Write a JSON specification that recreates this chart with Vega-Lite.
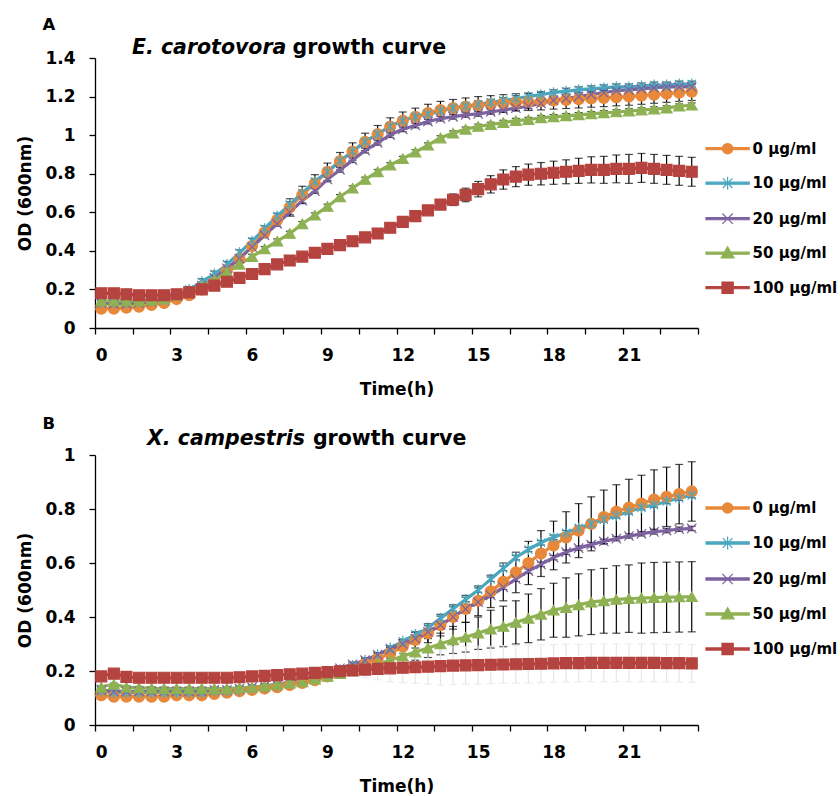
{
"$schema": "https://vega.github.io/schema/vega-lite/v6.json",
"background": "white",
"padding": {"left": 16, "top": 16, "right": 0, "bottom": 0},
"spacing": 18,
"config": {
  "font": "DejaVu Sans",
  "view": {"stroke": null},
  "axis": {"labelFont": "DejaVu Sans", "labelFontSize": 17, "labelFontWeight": "bold", "labelColor": "#000", "titleFont": "DejaVu Sans", "titleFontSize": 17, "titleFontWeight": "bold", "titleColor": "#000", "domainColor": "#000", "domainWidth": 1.3, "tickColor": "#000", "tickWidth": 1.3, "tickSize": 6, "grid": false, "labelFlush": false, "labelOverlap": false},
  "axisX": {"labelPadding": 13, "titlePadding": 18, "labelOffset": 6.28},
  "axisY": {"labelPadding": 14, "titlePadding": 10},
  "title": {"font": "DejaVu Sans", "fontWeight": "bold", "color": "#000", "fontSize": 20.5},
  "legend": {"labelFont": "DejaVu Sans", "labelFontSize": 15, "labelFontWeight": "bold", "labelColor": "#000", "padding": 0}
},
"resolve": {"scale": {"fill": "independent", "stroke": "independent", "shape": "independent"}},
"datasets": {
"A": [
{"s":"0","t":0,"y":0.1,"e":0.01},{"s":"0","t":0.5,"y":0.1,"e":0.01},{"s":"0","t":1,"y":0.105,"e":0.01},{"s":"0","t":1.5,"y":0.11,"e":0.01},{"s":"0","t":2,"y":0.12,"e":0.01},{"s":"0","t":2.5,"y":0.13,"e":0.01},{"s":"0","t":3,"y":0.15,"e":0.01},{"s":"0","t":3.5,"y":0.17,"e":0.01},{"s":"0","t":4,"y":0.2,"e":0.02},{"s":"0","t":4.5,"y":0.24,"e":0.02},{"s":"0","t":5,"y":0.3,"e":0.02},{"s":"0","t":5.5,"y":0.36,"e":0.02},{"s":"0","t":6,"y":0.425,"e":0.02},{"s":"0","t":6.5,"y":0.495,"e":0.02},{"s":"0","t":7,"y":0.56,"e":0.02},{"s":"0","t":7.5,"y":0.625,"e":0.045},{"s":"0","t":8,"y":0.69,"e":0.045},{"s":"0","t":8.5,"y":0.75,"e":0.045},{"s":"0","t":9,"y":0.81,"e":0.045},{"s":"0","t":9.5,"y":0.865,"e":0.045},{"s":"0","t":10,"y":0.915,"e":0.045},{"s":"0","t":10.5,"y":0.965,"e":0.045},{"s":"0","t":11,"y":1.005,"e":0.045},{"s":"0","t":11.5,"y":1.045,"e":0.045},{"s":"0","t":12,"y":1.075,"e":0.045},{"s":"0","t":12.5,"y":1.095,"e":0.045},{"s":"0","t":13,"y":1.115,"e":0.045},{"s":"0","t":13.5,"y":1.13,"e":0.045},{"s":"0","t":14,"y":1.14,"e":0.045},{"s":"0","t":14.5,"y":1.148,"e":0.045},{"s":"0","t":15,"y":1.155,"e":0.045},{"s":"0","t":15.5,"y":1.16,"e":0.045},{"s":"0","t":16,"y":1.165,"e":0.045},{"s":"0","t":16.5,"y":1.17,"e":0.045},{"s":"0","t":17,"y":1.173,"e":0.045},{"s":"0","t":17.5,"y":1.176,"e":0.045},{"s":"0","t":18,"y":1.18,"e":0.045},{"s":"0","t":18.5,"y":1.183,"e":0.045},{"s":"0","t":19,"y":1.186,"e":0.045},{"s":"0","t":19.5,"y":1.19,"e":0.045},{"s":"0","t":20,"y":1.193,"e":0.045},{"s":"0","t":20.5,"y":1.197,"e":0.045},{"s":"0","t":21,"y":1.2,"e":0.045},{"s":"0","t":21.5,"y":1.205,"e":0.045},{"s":"0","t":22,"y":1.21,"e":0.045},{"s":"0","t":22.5,"y":1.215,"e":0.045},{"s":"0","t":23,"y":1.22,"e":0.045},{"s":"0","t":23.5,"y":1.225,"e":0.045},
{"s":"10","t":0,"y":0.13,"e":0.015},{"s":"10","t":0.5,"y":0.13,"e":0.015},{"s":"10","t":1,"y":0.13,"e":0.015},{"s":"10","t":1.5,"y":0.135,"e":0.015},{"s":"10","t":2,"y":0.14,"e":0.015},{"s":"10","t":2.5,"y":0.15,"e":0.015},{"s":"10","t":3,"y":0.17,"e":0.015},{"s":"10","t":3.5,"y":0.2,"e":0.015},{"s":"10","t":4,"y":0.24,"e":0.015},{"s":"10","t":4.5,"y":0.28,"e":0.015},{"s":"10","t":5,"y":0.33,"e":0.015},{"s":"10","t":5.5,"y":0.39,"e":0.015},{"s":"10","t":6,"y":0.45,"e":0.015},{"s":"10","t":6.5,"y":0.515,"e":0.015},{"s":"10","t":7,"y":0.58,"e":0.015},{"s":"10","t":7.5,"y":0.64,"e":0.015},{"s":"10","t":8,"y":0.7,"e":0.015},{"s":"10","t":8.5,"y":0.76,"e":0.015},{"s":"10","t":9,"y":0.81,"e":0.015},{"s":"10","t":9.5,"y":0.865,"e":0.015},{"s":"10","t":10,"y":0.915,"e":0.015},{"s":"10","t":10.5,"y":0.965,"e":0.015},{"s":"10","t":11,"y":1.005,"e":0.015},{"s":"10","t":11.5,"y":1.045,"e":0.015},{"s":"10","t":12,"y":1.075,"e":0.015},{"s":"10","t":12.5,"y":1.095,"e":0.015},{"s":"10","t":13,"y":1.11,"e":0.015},{"s":"10","t":13.5,"y":1.125,"e":0.015},{"s":"10","t":14,"y":1.14,"e":0.015},{"s":"10","t":14.5,"y":1.15,"e":0.015},{"s":"10","t":15,"y":1.16,"e":0.015},{"s":"10","t":15.5,"y":1.17,"e":0.015},{"s":"10","t":16,"y":1.18,"e":0.015},{"s":"10","t":16.5,"y":1.19,"e":0.015},{"s":"10","t":17,"y":1.2,"e":0.015},{"s":"10","t":17.5,"y":1.21,"e":0.015},{"s":"10","t":18,"y":1.22,"e":0.015},{"s":"10","t":18.5,"y":1.228,"e":0.015},{"s":"10","t":19,"y":1.235,"e":0.015},{"s":"10","t":19.5,"y":1.24,"e":0.015},{"s":"10","t":20,"y":1.245,"e":0.015},{"s":"10","t":20.5,"y":1.25,"e":0.015},{"s":"10","t":21,"y":1.25,"e":0.015},{"s":"10","t":21.5,"y":1.255,"e":0.015},{"s":"10","t":22,"y":1.26,"e":0.015},{"s":"10","t":22.5,"y":1.26,"e":0.015},{"s":"10","t":23,"y":1.265,"e":0.015},{"s":"10","t":23.5,"y":1.265,"e":0.015},
{"s":"20","t":0,"y":0.13,"e":0.012},{"s":"20","t":0.5,"y":0.125,"e":0.012},{"s":"20","t":1,"y":0.125,"e":0.012},{"s":"20","t":1.5,"y":0.13,"e":0.012},{"s":"20","t":2,"y":0.135,"e":0.012},{"s":"20","t":2.5,"y":0.145,"e":0.012},{"s":"20","t":3,"y":0.165,"e":0.012},{"s":"20","t":3.5,"y":0.19,"e":0.012},{"s":"20","t":4,"y":0.22,"e":0.012},{"s":"20","t":4.5,"y":0.26,"e":0.012},{"s":"20","t":5,"y":0.31,"e":0.012},{"s":"20","t":5.5,"y":0.36,"e":0.012},{"s":"20","t":6,"y":0.42,"e":0.012},{"s":"20","t":6.5,"y":0.48,"e":0.012},{"s":"20","t":7,"y":0.54,"e":0.012},{"s":"20","t":7.5,"y":0.6,"e":0.012},{"s":"20","t":8,"y":0.66,"e":0.012},{"s":"20","t":8.5,"y":0.71,"e":0.012},{"s":"20","t":9,"y":0.77,"e":0.012},{"s":"20","t":9.5,"y":0.82,"e":0.012},{"s":"20","t":10,"y":0.87,"e":0.012},{"s":"20","t":10.5,"y":0.92,"e":0.012},{"s":"20","t":11,"y":0.96,"e":0.012},{"s":"20","t":11.5,"y":1.0,"e":0.012},{"s":"20","t":12,"y":1.03,"e":0.012},{"s":"20","t":12.5,"y":1.05,"e":0.012},{"s":"20","t":13,"y":1.07,"e":0.012},{"s":"20","t":13.5,"y":1.085,"e":0.012},{"s":"20","t":14,"y":1.095,"e":0.012},{"s":"20","t":14.5,"y":1.105,"e":0.012},{"s":"20","t":15,"y":1.11,"e":0.012},{"s":"20","t":15.5,"y":1.12,"e":0.012},{"s":"20","t":16,"y":1.13,"e":0.012},{"s":"20","t":16.5,"y":1.14,"e":0.012},{"s":"20","t":17,"y":1.15,"e":0.012},{"s":"20","t":17.5,"y":1.165,"e":0.012},{"s":"20","t":18,"y":1.18,"e":0.012},{"s":"20","t":18.5,"y":1.19,"e":0.012},{"s":"20","t":19,"y":1.2,"e":0.012},{"s":"20","t":19.5,"y":1.21,"e":0.012},{"s":"20","t":20,"y":1.22,"e":0.012},{"s":"20","t":20.5,"y":1.23,"e":0.012},{"s":"20","t":21,"y":1.235,"e":0.012},{"s":"20","t":21.5,"y":1.24,"e":0.012},{"s":"20","t":22,"y":1.245,"e":0.012},{"s":"20","t":22.5,"y":1.25,"e":0.012},{"s":"20","t":23,"y":1.25,"e":0.012},{"s":"20","t":23.5,"y":1.25,"e":0.012},
{"s":"50","t":0,"y":0.14,"e":0.012},{"s":"50","t":0.5,"y":0.14,"e":0.012},{"s":"50","t":1,"y":0.14,"e":0.012},{"s":"50","t":1.5,"y":0.14,"e":0.012},{"s":"50","t":2,"y":0.145,"e":0.012},{"s":"50","t":2.5,"y":0.15,"e":0.012},{"s":"50","t":3,"y":0.17,"e":0.012},{"s":"50","t":3.5,"y":0.19,"e":0.012},{"s":"50","t":4,"y":0.22,"e":0.012},{"s":"50","t":4.5,"y":0.25,"e":0.012},{"s":"50","t":5,"y":0.29,"e":0.012},{"s":"50","t":5.5,"y":0.33,"e":0.012},{"s":"50","t":6,"y":0.37,"e":0.012},{"s":"50","t":6.5,"y":0.41,"e":0.012},{"s":"50","t":7,"y":0.45,"e":0.012},{"s":"50","t":7.5,"y":0.49,"e":0.012},{"s":"50","t":8,"y":0.54,"e":0.012},{"s":"50","t":8.5,"y":0.585,"e":0.012},{"s":"50","t":9,"y":0.63,"e":0.012},{"s":"50","t":9.5,"y":0.68,"e":0.012},{"s":"50","t":10,"y":0.725,"e":0.012},{"s":"50","t":10.5,"y":0.77,"e":0.012},{"s":"50","t":11,"y":0.81,"e":0.012},{"s":"50","t":11.5,"y":0.845,"e":0.012},{"s":"50","t":12,"y":0.878,"e":0.012},{"s":"50","t":12.5,"y":0.912,"e":0.012},{"s":"50","t":13,"y":0.948,"e":0.012},{"s":"50","t":13.5,"y":0.985,"e":0.012},{"s":"50","t":14,"y":1.01,"e":0.012},{"s":"50","t":14.5,"y":1.03,"e":0.012},{"s":"50","t":15,"y":1.045,"e":0.012},{"s":"50","t":15.5,"y":1.055,"e":0.012},{"s":"50","t":16,"y":1.065,"e":0.012},{"s":"50","t":16.5,"y":1.075,"e":0.012},{"s":"50","t":17,"y":1.08,"e":0.012},{"s":"50","t":17.5,"y":1.09,"e":0.012},{"s":"50","t":18,"y":1.095,"e":0.012},{"s":"50","t":18.5,"y":1.1,"e":0.012},{"s":"50","t":19,"y":1.105,"e":0.012},{"s":"50","t":19.5,"y":1.11,"e":0.012},{"s":"50","t":20,"y":1.115,"e":0.012},{"s":"50","t":20.5,"y":1.12,"e":0.012},{"s":"50","t":21,"y":1.125,"e":0.012},{"s":"50","t":21.5,"y":1.13,"e":0.012},{"s":"50","t":22,"y":1.135,"e":0.012},{"s":"50","t":22.5,"y":1.14,"e":0.012},{"s":"50","t":23,"y":1.15,"e":0.012},{"s":"50","t":23.5,"y":1.155,"e":0.012},
{"s":"100","t":0,"y":0.18,"e":0.01},{"s":"100","t":0.5,"y":0.18,"e":0.01},{"s":"100","t":1,"y":0.175,"e":0.01},{"s":"100","t":1.5,"y":0.17,"e":0.01},{"s":"100","t":2,"y":0.17,"e":0.01},{"s":"100","t":2.5,"y":0.17,"e":0.01},{"s":"100","t":3,"y":0.175,"e":0.01},{"s":"100","t":3.5,"y":0.185,"e":0.01},{"s":"100","t":4,"y":0.2,"e":0.01},{"s":"100","t":4.5,"y":0.22,"e":0.01},{"s":"100","t":5,"y":0.24,"e":0.01},{"s":"100","t":5.5,"y":0.26,"e":0.01},{"s":"100","t":6,"y":0.28,"e":0.01},{"s":"100","t":6.5,"y":0.305,"e":0.01},{"s":"100","t":7,"y":0.33,"e":0.01},{"s":"100","t":7.5,"y":0.35,"e":0.01},{"s":"100","t":8,"y":0.37,"e":0.01},{"s":"100","t":8.5,"y":0.39,"e":0.01},{"s":"100","t":9,"y":0.41,"e":0.01},{"s":"100","t":9.5,"y":0.43,"e":0.01},{"s":"100","t":10,"y":0.45,"e":0.01},{"s":"100","t":10.5,"y":0.47,"e":0.01},{"s":"100","t":11,"y":0.49,"e":0.012},{"s":"100","t":11.5,"y":0.52,"e":0.012},{"s":"100","t":12,"y":0.55,"e":0.015},{"s":"100","t":12.5,"y":0.58,"e":0.018},{"s":"100","t":13,"y":0.61,"e":0.02},{"s":"100","t":13.5,"y":0.64,"e":0.025},{"s":"100","t":14,"y":0.665,"e":0.03},{"s":"100","t":14.5,"y":0.69,"e":0.035},{"s":"100","t":15,"y":0.72,"e":0.04},{"s":"100","t":15.5,"y":0.745,"e":0.045},{"s":"100","t":16,"y":0.77,"e":0.05},{"s":"100","t":16.5,"y":0.785,"e":0.052},{"s":"100","t":17,"y":0.795,"e":0.055},{"s":"100","t":17.5,"y":0.8,"e":0.058},{"s":"100","t":18,"y":0.805,"e":0.06},{"s":"100","t":18.5,"y":0.81,"e":0.062},{"s":"100","t":19,"y":0.815,"e":0.065},{"s":"100","t":19.5,"y":0.82,"e":0.068},{"s":"100","t":20,"y":0.82,"e":0.07},{"s":"100","t":20.5,"y":0.825,"e":0.072},{"s":"100","t":21,"y":0.825,"e":0.075},{"s":"100","t":21.5,"y":0.83,"e":0.075},{"s":"100","t":22,"y":0.825,"e":0.075},{"s":"100","t":22.5,"y":0.82,"e":0.075},{"s":"100","t":23,"y":0.815,"e":0.075},{"s":"100","t":23.5,"y":0.81,"e":0.075}
],
"B": [
{"s":"0","t":0,"y":0.11,"e":0.005},{"s":"0","t":0.5,"y":0.105,"e":0.005},{"s":"0","t":1,"y":0.105,"e":0.005},{"s":"0","t":1.5,"y":0.105,"e":0.005},{"s":"0","t":2,"y":0.105,"e":0.005},{"s":"0","t":2.5,"y":0.105,"e":0.005},{"s":"0","t":3,"y":0.11,"e":0.005},{"s":"0","t":3.5,"y":0.11,"e":0.005},{"s":"0","t":4,"y":0.11,"e":0.005},{"s":"0","t":4.5,"y":0.115,"e":0.005},{"s":"0","t":5,"y":0.12,"e":0.005},{"s":"0","t":5.5,"y":0.125,"e":0.005},{"s":"0","t":6,"y":0.13,"e":0.005},{"s":"0","t":6.5,"y":0.135,"e":0.005},{"s":"0","t":7,"y":0.14,"e":0.005},{"s":"0","t":7.5,"y":0.148,"e":0.005},{"s":"0","t":8,"y":0.156,"e":0.005},{"s":"0","t":8.5,"y":0.166,"e":0.005},{"s":"0","t":9,"y":0.18,"e":0.005},{"s":"0","t":9.5,"y":0.195,"e":0.01},{"s":"0","t":10,"y":0.21,"e":0.012},{"s":"0","t":10.5,"y":0.227,"e":0.015},{"s":"0","t":11,"y":0.245,"e":0.018},{"s":"0","t":11.5,"y":0.266,"e":0.02},{"s":"0","t":12,"y":0.29,"e":0.025},{"s":"0","t":12.5,"y":0.315,"e":0.03},{"s":"0","t":13,"y":0.34,"e":0.035},{"s":"0","t":13.5,"y":0.37,"e":0.04},{"s":"0","t":14,"y":0.4,"e":0.045},{"s":"0","t":14.5,"y":0.43,"e":0.05},{"s":"0","t":15,"y":0.46,"e":0.055},{"s":"0","t":15.5,"y":0.495,"e":0.06},{"s":"0","t":16,"y":0.53,"e":0.07},{"s":"0","t":16.5,"y":0.565,"e":0.075},{"s":"0","t":17,"y":0.6,"e":0.08},{"s":"0","t":17.5,"y":0.635,"e":0.085},{"s":"0","t":18,"y":0.665,"e":0.09},{"s":"0","t":18.5,"y":0.695,"e":0.095},{"s":"0","t":19,"y":0.72,"e":0.1},{"s":"0","t":19.5,"y":0.745,"e":0.1},{"s":"0","t":20,"y":0.77,"e":0.1},{"s":"0","t":20.5,"y":0.79,"e":0.1},{"s":"0","t":21,"y":0.805,"e":0.105},{"s":"0","t":21.5,"y":0.82,"e":0.105},{"s":"0","t":22,"y":0.835,"e":0.11},{"s":"0","t":22.5,"y":0.845,"e":0.11},{"s":"0","t":23,"y":0.855,"e":0.11},{"s":"0","t":23.5,"y":0.865,"e":0.11},
{"s":"10","t":0,"y":0.125,"e":0.008},{"s":"10","t":0.5,"y":0.12,"e":0.008},{"s":"10","t":1,"y":0.12,"e":0.008},{"s":"10","t":1.5,"y":0.12,"e":0.008},{"s":"10","t":2,"y":0.12,"e":0.008},{"s":"10","t":2.5,"y":0.12,"e":0.008},{"s":"10","t":3,"y":0.12,"e":0.008},{"s":"10","t":3.5,"y":0.12,"e":0.008},{"s":"10","t":4,"y":0.12,"e":0.008},{"s":"10","t":4.5,"y":0.125,"e":0.008},{"s":"10","t":5,"y":0.125,"e":0.008},{"s":"10","t":5.5,"y":0.13,"e":0.008},{"s":"10","t":6,"y":0.135,"e":0.008},{"s":"10","t":6.5,"y":0.14,"e":0.008},{"s":"10","t":7,"y":0.145,"e":0.008},{"s":"10","t":7.5,"y":0.155,"e":0.008},{"s":"10","t":8,"y":0.165,"e":0.008},{"s":"10","t":8.5,"y":0.175,"e":0.008},{"s":"10","t":9,"y":0.19,"e":0.008},{"s":"10","t":9.5,"y":0.205,"e":0.008},{"s":"10","t":10,"y":0.22,"e":0.008},{"s":"10","t":10.5,"y":0.24,"e":0.008},{"s":"10","t":11,"y":0.26,"e":0.008},{"s":"10","t":11.5,"y":0.285,"e":0.008},{"s":"10","t":12,"y":0.31,"e":0.008},{"s":"10","t":12.5,"y":0.335,"e":0.008},{"s":"10","t":13,"y":0.36,"e":0.008},{"s":"10","t":13.5,"y":0.395,"e":0.008},{"s":"10","t":14,"y":0.43,"e":0.008},{"s":"10","t":14.5,"y":0.465,"e":0.008},{"s":"10","t":15,"y":0.5,"e":0.008},{"s":"10","t":15.5,"y":0.54,"e":0.008},{"s":"10","t":16,"y":0.58,"e":0.008},{"s":"10","t":16.5,"y":0.62,"e":0.008},{"s":"10","t":17,"y":0.65,"e":0.008},{"s":"10","t":17.5,"y":0.675,"e":0.008},{"s":"10","t":18,"y":0.695,"e":0.008},{"s":"10","t":18.5,"y":0.712,"e":0.008},{"s":"10","t":19,"y":0.73,"e":0.008},{"s":"10","t":19.5,"y":0.745,"e":0.008},{"s":"10","t":20,"y":0.76,"e":0.008},{"s":"10","t":20.5,"y":0.775,"e":0.008},{"s":"10","t":21,"y":0.79,"e":0.008},{"s":"10","t":21.5,"y":0.805,"e":0.008},{"s":"10","t":22,"y":0.815,"e":0.008},{"s":"10","t":22.5,"y":0.828,"e":0.008},{"s":"10","t":23,"y":0.84,"e":0.008},{"s":"10","t":23.5,"y":0.85,"e":0.008},
{"s":"20","t":0,"y":0.13,"e":0.008},{"s":"20","t":0.5,"y":0.125,"e":0.008},{"s":"20","t":1,"y":0.125,"e":0.008},{"s":"20","t":1.5,"y":0.125,"e":0.008},{"s":"20","t":2,"y":0.125,"e":0.008},{"s":"20","t":2.5,"y":0.125,"e":0.008},{"s":"20","t":3,"y":0.125,"e":0.008},{"s":"20","t":3.5,"y":0.125,"e":0.008},{"s":"20","t":4,"y":0.125,"e":0.008},{"s":"20","t":4.5,"y":0.13,"e":0.008},{"s":"20","t":5,"y":0.13,"e":0.008},{"s":"20","t":5.5,"y":0.135,"e":0.008},{"s":"20","t":6,"y":0.14,"e":0.008},{"s":"20","t":6.5,"y":0.145,"e":0.008},{"s":"20","t":7,"y":0.15,"e":0.008},{"s":"20","t":7.5,"y":0.16,"e":0.008},{"s":"20","t":8,"y":0.17,"e":0.008},{"s":"20","t":8.5,"y":0.18,"e":0.008},{"s":"20","t":9,"y":0.195,"e":0.008},{"s":"20","t":9.5,"y":0.21,"e":0.008},{"s":"20","t":10,"y":0.225,"e":0.008},{"s":"20","t":10.5,"y":0.24,"e":0.008},{"s":"20","t":11,"y":0.26,"e":0.008},{"s":"20","t":11.5,"y":0.28,"e":0.008},{"s":"20","t":12,"y":0.3,"e":0.008},{"s":"20","t":12.5,"y":0.32,"e":0.008},{"s":"20","t":13,"y":0.345,"e":0.008},{"s":"20","t":13.5,"y":0.37,"e":0.008},{"s":"20","t":14,"y":0.4,"e":0.008},{"s":"20","t":14.5,"y":0.43,"e":0.008},{"s":"20","t":15,"y":0.455,"e":0.008},{"s":"20","t":15.5,"y":0.48,"e":0.008},{"s":"20","t":16,"y":0.51,"e":0.008},{"s":"20","t":16.5,"y":0.54,"e":0.008},{"s":"20","t":17,"y":0.57,"e":0.008},{"s":"20","t":17.5,"y":0.595,"e":0.008},{"s":"20","t":18,"y":0.62,"e":0.008},{"s":"20","t":18.5,"y":0.64,"e":0.008},{"s":"20","t":19,"y":0.655,"e":0.008},{"s":"20","t":19.5,"y":0.668,"e":0.008},{"s":"20","t":20,"y":0.68,"e":0.008},{"s":"20","t":20.5,"y":0.69,"e":0.008},{"s":"20","t":21,"y":0.7,"e":0.008},{"s":"20","t":21.5,"y":0.708,"e":0.008},{"s":"20","t":22,"y":0.715,"e":0.008},{"s":"20","t":22.5,"y":0.72,"e":0.008},{"s":"20","t":23,"y":0.725,"e":0.008},{"s":"20","t":23.5,"y":0.728,"e":0.008},
{"s":"50","t":0,"y":0.14,"e":0.005},{"s":"50","t":0.5,"y":0.15,"e":0.005},{"s":"50","t":1,"y":0.14,"e":0.005},{"s":"50","t":1.5,"y":0.138,"e":0.005},{"s":"50","t":2,"y":0.136,"e":0.005},{"s":"50","t":2.5,"y":0.135,"e":0.005},{"s":"50","t":3,"y":0.135,"e":0.005},{"s":"50","t":3.5,"y":0.135,"e":0.005},{"s":"50","t":4,"y":0.135,"e":0.005},{"s":"50","t":4.5,"y":0.135,"e":0.005},{"s":"50","t":5,"y":0.135,"e":0.005},{"s":"50","t":5.5,"y":0.138,"e":0.005},{"s":"50","t":6,"y":0.14,"e":0.005},{"s":"50","t":6.5,"y":0.145,"e":0.005},{"s":"50","t":7,"y":0.15,"e":0.005},{"s":"50","t":7.5,"y":0.155,"e":0.005},{"s":"50","t":8,"y":0.16,"e":0.005},{"s":"50","t":8.5,"y":0.17,"e":0.005},{"s":"50","t":9,"y":0.18,"e":0.005},{"s":"50","t":9.5,"y":0.19,"e":0.005},{"s":"50","t":10,"y":0.2,"e":0.005},{"s":"50","t":10.5,"y":0.21,"e":0.01},{"s":"50","t":11,"y":0.225,"e":0.015},{"s":"50","t":11.5,"y":0.24,"e":0.02},{"s":"50","t":12,"y":0.255,"e":0.025},{"s":"50","t":12.5,"y":0.27,"e":0.03},{"s":"50","t":13,"y":0.285,"e":0.035},{"s":"50","t":13.5,"y":0.3,"e":0.04},{"s":"50","t":14,"y":0.315,"e":0.05},{"s":"50","t":14.5,"y":0.325,"e":0.055},{"s":"50","t":15,"y":0.34,"e":0.06},{"s":"50","t":15.5,"y":0.355,"e":0.07},{"s":"50","t":16,"y":0.365,"e":0.075},{"s":"50","t":16.5,"y":0.38,"e":0.08},{"s":"50","t":17,"y":0.395,"e":0.09},{"s":"50","t":17.5,"y":0.41,"e":0.095},{"s":"50","t":18,"y":0.425,"e":0.1},{"s":"50","t":18.5,"y":0.435,"e":0.11},{"s":"50","t":19,"y":0.445,"e":0.115},{"s":"50","t":19.5,"y":0.455,"e":0.12},{"s":"50","t":20,"y":0.46,"e":0.12},{"s":"50","t":20.5,"y":0.465,"e":0.125},{"s":"50","t":21,"y":0.468,"e":0.125},{"s":"50","t":21.5,"y":0.47,"e":0.13},{"s":"50","t":22,"y":0.472,"e":0.13},{"s":"50","t":22.5,"y":0.473,"e":0.13},{"s":"50","t":23,"y":0.474,"e":0.13},{"s":"50","t":23.5,"y":0.475,"e":0.13},
{"s":"100","t":0,"y":0.18,"e":0.01},{"s":"100","t":0.5,"y":0.19,"e":0.01},{"s":"100","t":1,"y":0.178,"e":0.01},{"s":"100","t":1.5,"y":0.175,"e":0.01},{"s":"100","t":2,"y":0.175,"e":0.01},{"s":"100","t":2.5,"y":0.175,"e":0.01},{"s":"100","t":3,"y":0.175,"e":0.01},{"s":"100","t":3.5,"y":0.175,"e":0.01},{"s":"100","t":4,"y":0.175,"e":0.01},{"s":"100","t":4.5,"y":0.175,"e":0.01},{"s":"100","t":5,"y":0.175,"e":0.01},{"s":"100","t":5.5,"y":0.177,"e":0.01},{"s":"100","t":6,"y":0.18,"e":0.01},{"s":"100","t":6.5,"y":0.182,"e":0.01},{"s":"100","t":7,"y":0.185,"e":0.01},{"s":"100","t":7.5,"y":0.188,"e":0.01},{"s":"100","t":8,"y":0.19,"e":0.01},{"s":"100","t":8.5,"y":0.193,"e":0.01},{"s":"100","t":9,"y":0.196,"e":0.01},{"s":"100","t":9.5,"y":0.199,"e":0.01},{"s":"100","t":10,"y":0.202,"e":0.02},{"s":"100","t":10.5,"y":0.205,"e":0.03},{"s":"100","t":11,"y":0.208,"e":0.04},{"s":"100","t":11.5,"y":0.21,"e":0.05},{"s":"100","t":12,"y":0.212,"e":0.055},{"s":"100","t":12.5,"y":0.214,"e":0.06},{"s":"100","t":13,"y":0.216,"e":0.065},{"s":"100","t":13.5,"y":0.218,"e":0.07},{"s":"100","t":14,"y":0.22,"e":0.07},{"s":"100","t":14.5,"y":0.221,"e":0.07},{"s":"100","t":15,"y":0.222,"e":0.07},{"s":"100","t":15.5,"y":0.223,"e":0.07},{"s":"100","t":16,"y":0.224,"e":0.07},{"s":"100","t":16.5,"y":0.225,"e":0.07},{"s":"100","t":17,"y":0.226,"e":0.07},{"s":"100","t":17.5,"y":0.227,"e":0.07},{"s":"100","t":18,"y":0.228,"e":0.07},{"s":"100","t":18.5,"y":0.229,"e":0.07},{"s":"100","t":19,"y":0.229,"e":0.07},{"s":"100","t":19.5,"y":0.23,"e":0.07},{"s":"100","t":20,"y":0.23,"e":0.07},{"s":"100","t":20.5,"y":0.23,"e":0.07},{"s":"100","t":21,"y":0.23,"e":0.07},{"s":"100","t":21.5,"y":0.23,"e":0.07},{"s":"100","t":22,"y":0.23,"e":0.07},{"s":"100","t":22.5,"y":0.229,"e":0.07},{"s":"100","t":23,"y":0.229,"e":0.07},{"s":"100","t":23.5,"y":0.228,"e":0.07}
]
},
"vconcat": [
{
  "title": {"text": "A", "anchor": "start", "frame": "bounds", "fontSize": 16.5, "dx": 25.5, "offset": 5},
  "resolve": {"scale": {"fill": "independent", "stroke": "independent", "shape": "independent"}},
  "vconcat": [{
    "title": {"text": "growth curve", "anchor": "start", "frame": "bounds", "dx": 275.7, "dy": 20.5, "offset": 0},
    "resolve": {"scale": {"fill": "independent", "stroke": "independent", "shape": "independent"}},
    "vconcat": [{
      "title": {"text": "E. carotovora", "anchor": "start", "frame": "group", "fontStyle": "italic", "dx": 37, "offset": -9.7},
      "width": 603, "height": 270,
      "data": {"name": "A"},
      "encoding": {
        "x": {"field": "t", "type": "quantitative", "scale": {"domain": [-0.25, 23.75], "nice": false, "zero": false},
              "axis": {"title": "Time(h)", "values": [-0.25,1.25,2.75,4.25,5.75,7.25,8.75,10.25,11.75,13.25,14.75,16.25,17.75,19.25,20.75,22.25,23.75],
                       "labelExpr": "datum.value < 23 && (datum.value + 0.25) % 3 == 0 ? format(datum.value + 0.25, 'd') : ''"}},
        "y": {"field": "y", "type": "quantitative", "scale": {"domain": [0, 1.4], "nice": false},
              "axis": {"title": "OD (600nm)", "values": [0,0.2,0.4,0.6,0.8,1,1.2,1.4], "format": ".1~f"}}
      },
      "layer": [
        {"mark": {"type": "errorbar", "ticks": true, "size": 8, "thickness": 1.2, "color": "black"},
         "encoding": {"yError": {"field": "e"}}},
        {"mark": {"type": "line", "interpolate": "monotone", "strokeWidth": 3.2},
         "encoding": {"stroke": {"field": "s", "type": "nominal", "scale": {"domain": ["0","10","20","50","100"], "range": ["#E8883A","#4AA7C0","#7D62A0","#8EB153","#B5433F"]}}}},
        {"mark": {"type": "point", "filled": true, "size": 120, "strokeWidth": 1.2, "opacity": 1},
         "encoding": {
           "fill": {"field": "s", "type": "nominal", "scale": {"domain": ["0","10","20","50","100"], "range": ["#E8883A","#4AA7C0","#7D62A0","#8EB153","#B5433F"]},
             "legend": {"orient": "none", "legendX": 623.6, "legendY": 81.7, "title": null, "symbolSize": 256, "labelOffset": 16, "rowPadding": 17.5,
               "labelExpr": "datum.label + ' µg/ml'",
               "encoding": {"symbols": {
                 "shape": {"value": {"expr": "['M-2.7,-0.13H2.7V0.13H-2.7ZM-0.65,0A0.65,0.65,0,1,1,0.65,0A0.65,0.65,0,1,1,-0.65,0Z','M-2.7,-0.13H2.7V0.13H-2.7ZM-0.6,-0.6L0.6,0.6M-0.6,0.6L0.6,-0.6M0,-0.8L0,0.8','M-2.7,-0.13H2.7V0.13H-2.7ZM-0.65,-0.65L0.65,0.65M-0.65,0.65L0.65,-0.65','M-2.7,-0.13H2.7V0.13H-2.7ZM0,-0.8L0.8,0.6L-0.8,0.6Z','M-2.7,-0.13H2.7V0.13H-2.7ZM-0.7,-0.7H0.7V0.7H-0.7Z'][indexof(['0','10','20','50','100'], datum.value)]"}},
                 "strokeWidth": {"value": 1.2},
                 "opacity": {"value": 1}}}}},
           "stroke": {"field": "s", "type": "nominal", "scale": {"domain": ["0","10","20","50","100"], "range": ["#E8883A","#4AA7C0","#7D62A0","#8EB153","#B5433F"]}},
           "shape": {"field": "s", "type": "nominal", "legend": null,
             "scale": {"domain": ["100","50","20","10","0"], "range": ["square","triangle-up","M-0.85,-0.85L0.85,0.85M-0.85,0.85L0.85,-0.85","M-0.75,-0.75L0.75,0.75M-0.75,0.75L0.75,-0.75M0,-1L0,1","circle"]}}
         }}
      ]
    }]
  }]
},
{
  "title": {"text": "B", "anchor": "start", "frame": "bounds", "fontSize": 16.5, "dx": 25.5, "offset": -3.5},
  "resolve": {"scale": {"fill": "independent", "stroke": "independent", "shape": "independent"}},
  "vconcat": [{
    "title": {"text": "growth curve", "anchor": "start", "frame": "bounds", "dx": 296, "dy": 20.5, "offset": 0},
    "resolve": {"scale": {"fill": "independent", "stroke": "independent", "shape": "independent"}},
    "vconcat": [{
      "title": {"text": "X. campestris", "anchor": "start", "frame": "group", "fontStyle": "italic", "dx": 52, "offset": -3},
      "width": 603, "height": 270,
      "data": {"name": "B"},
      "encoding": {
        "x": {"field": "t", "type": "quantitative", "scale": {"domain": [-0.25, 23.75], "nice": false, "zero": false},
              "axis": {"title": "Time(h)", "values": [-0.25,1.25,2.75,4.25,5.75,7.25,8.75,10.25,11.75,13.25,14.75,16.25,17.75,19.25,20.75,22.25,23.75],
                       "labelExpr": "datum.value < 23 && (datum.value + 0.25) % 3 == 0 ? format(datum.value + 0.25, 'd') : ''"}},
        "y": {"field": "y", "type": "quantitative", "scale": {"domain": [0, 1], "nice": false},
              "axis": {"title": "OD (600nm)", "values": [0,0.2,0.4,0.6,0.8,1], "format": ".1~f"}}
      },
      "layer": [
        {"transform": [{"filter": "datum.s != '100'"}],
         "mark": {"type": "errorbar", "ticks": true, "size": 8, "thickness": 1.2, "color": "black"},
         "encoding": {"yError": {"field": "e"}}},
        {"transform": [{"filter": "datum.s == '100'"}],
         "mark": {"type": "errorbar", "ticks": true, "size": 8, "thickness": 1.2, "color": "#e6e6e6"},
         "encoding": {"yError": {"field": "e"}}},
        {"mark": {"type": "line", "interpolate": "monotone", "strokeWidth": 3.2},
         "encoding": {"stroke": {"field": "s", "type": "nominal", "scale": {"domain": ["0","10","20","50","100"], "range": ["#E8883A","#4AA7C0","#7D62A0","#8EB153","#B5433F"]}}}},
        {"mark": {"type": "point", "filled": true, "size": 120, "strokeWidth": 1.2, "opacity": 1},
         "encoding": {
           "fill": {"field": "s", "type": "nominal", "scale": {"domain": ["0","10","20","50","100"], "range": ["#E8883A","#4AA7C0","#7D62A0","#8EB153","#B5433F"]},
             "legend": {"orient": "none", "legendX": 623.6, "legendY": 44, "title": null, "symbolSize": 256, "labelOffset": 16, "rowPadding": 18,
               "labelExpr": "datum.label + ' µg/ml'",
               "encoding": {"symbols": {
                 "shape": {"value": {"expr": "['M-2.7,-0.13H2.7V0.13H-2.7ZM-0.65,0A0.65,0.65,0,1,1,0.65,0A0.65,0.65,0,1,1,-0.65,0Z','M-2.7,-0.13H2.7V0.13H-2.7ZM-0.6,-0.6L0.6,0.6M-0.6,0.6L0.6,-0.6M0,-0.8L0,0.8','M-2.7,-0.13H2.7V0.13H-2.7ZM-0.65,-0.65L0.65,0.65M-0.65,0.65L0.65,-0.65','M-2.7,-0.13H2.7V0.13H-2.7ZM0,-0.8L0.8,0.6L-0.8,0.6Z','M-2.7,-0.13H2.7V0.13H-2.7ZM-0.7,-0.7H0.7V0.7H-0.7Z'][indexof(['0','10','20','50','100'], datum.value)]"}},
                 "strokeWidth": {"value": 1.2},
                 "opacity": {"value": 1}}}}},
           "stroke": {"field": "s", "type": "nominal", "scale": {"domain": ["0","10","20","50","100"], "range": ["#E8883A","#4AA7C0","#7D62A0","#8EB153","#B5433F"]}},
           "shape": {"field": "s", "type": "nominal", "legend": null,
             "scale": {"domain": ["100","50","20","10","0"], "range": ["square","triangle-up","M-0.85,-0.85L0.85,0.85M-0.85,0.85L0.85,-0.85","M-0.75,-0.75L0.75,0.75M-0.75,0.75L0.75,-0.75M0,-1L0,1","circle"]}}
         }}
      ]
    }]
  }]
}
]
}
